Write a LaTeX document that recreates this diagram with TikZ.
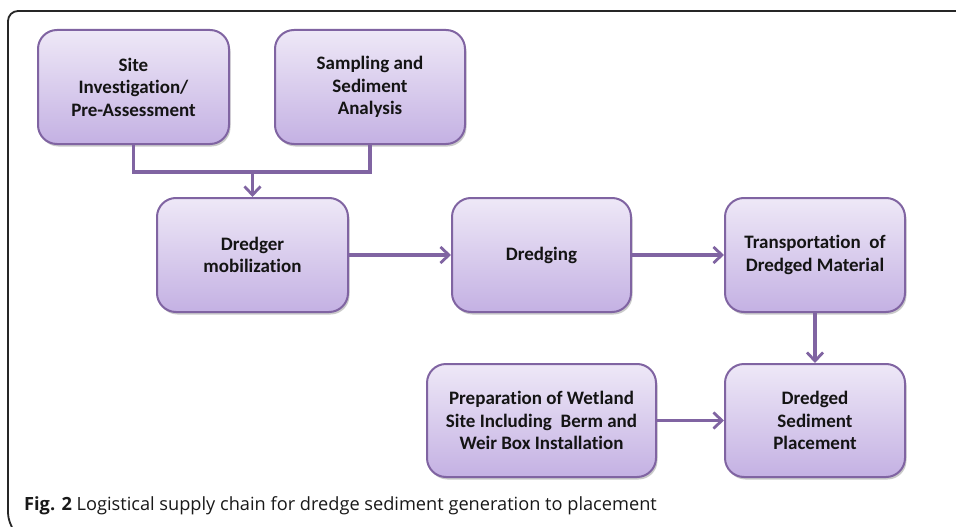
\documentclass[tikz,border=0pt]{standalone}
\usepackage{fontspec}
\setmainfont{Carlito}[Ligatures=NoCommon]
\newfontfamily\capfont{Open Sans}
\usetikzlibrary{arrows.meta,shadows,positioning}
\definecolor{boxtop}{RGB}{238,232,247}
\definecolor{boxbot}{RGB}{196,177,227}
\definecolor{boxline}{RGB}{128,100,162}
\definecolor{txt}{RGB}{20,20,20}
\tikzset{
  stepbox/.style={rectangle, rounded corners=19pt, draw=boxline, line width=2pt,
    top color=boxtop, bottom color=boxbot, align=center, text=txt,
    font=\fontsize{19}{22.5}\selectfont\bfseries, inner sep=0pt,
    drop shadow={shadow xshift=1.5pt, shadow yshift=-2.5pt, opacity=0.35, fill=black!60}},
  link/.style={draw=boxline, line width=3.2pt},
  arr/.style={link, -{Straight Barb[length=8.5pt,width=16pt,line width=2.8pt]}}
}
\begin{document}
\begin{tikzpicture}[x=1pt,y=-1pt]
\useasboundingbox (0,0) rectangle (956,527);
\fill[white] (0,0) rectangle (956,527);
\draw[line width=1.8pt, black!85, rounded corners=10pt] (960,11) -- (8,11) -- (8,523) -- (12,528);
\node[stepbox, minimum width=191pt, minimum height=114pt] (site) at (133.5,87) {Site\\Investigation/\\Pre-Assessment};
\node[stepbox, minimum width=190pt, minimum height=114pt] (samp) at (370,87) {Sampling and\\Sediment\\Analysis};
\node[stepbox, minimum width=191pt, minimum height=114pt] (dredger) at (252.5,255) {Dredger\\mobilization};
\node[stepbox, minimum width=179pt, minimum height=114pt] (dredging) at (541.5,255) {Dredging};
\node[stepbox, minimum width=180pt, minimum height=114pt] (transp) at (815,255) {Transportation\ \ of\\Dredged Material};
\node[stepbox, minimum width=229pt, minimum height=113pt] (prep) at (541.5,420.5) {Preparation of Wetland\\Site Including\ \ Berm and\\Weir Box Installation};
\node[stepbox, minimum width=180pt, minimum height=113pt] (place) at (815,420.5) {Dredged\\Sediment\\Placement};
\coordinate (join) at (252.5,172);
\draw[link] (site.south) |- (join) -| (samp.south);
\draw[arr] ([yshift=1.6pt]join) -- (dredger.north);
\draw[arr] (dredger.east) -- (dredging.west);
\draw[arr] (dredging.east) -- (transp.west);
\draw[arr] (transp.south) -- (place.north);
\draw[arr] (prep.east) -- (place.west);
\node[anchor=west, inner sep=0pt, font=\capfont\fontsize{18.2}{20}\selectfont, text=black!90] (cap) at (24,506) {\textbf{Fig. 2} Logistical supply chain for dredge sediment generation to placement};
\end{tikzpicture}
\end{document}
